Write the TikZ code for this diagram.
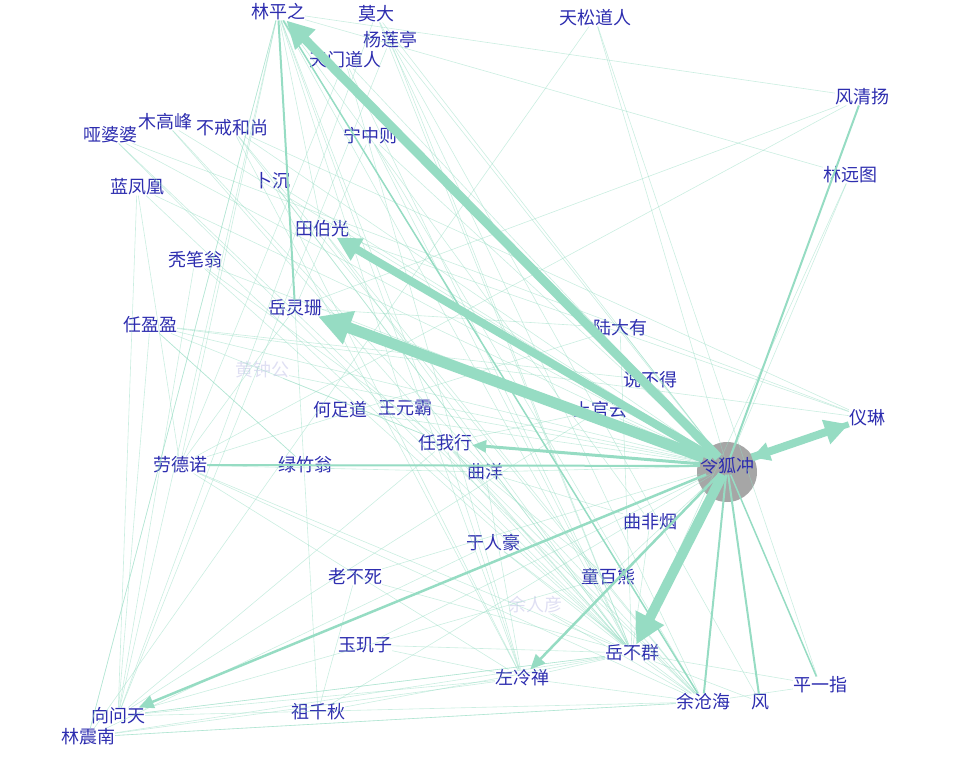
\documentclass[tikz,border=0pt]{standalone}
\usepackage{fontspec}
\newfontfamily\cjk{Noto Sans CJK SC}
\usetikzlibrary{arrows.meta}
\definecolor{edge}{RGB}{150,220,195}
\definecolor{lab}{RGB}{45,45,175}
\begin{document}
\begin{tikzpicture}[x=1pt,y=-1pt,
  lbl/.style={font=\cjk\fontsize{18}{18}\selectfont,text=lab,inner sep=0pt},
  faintlbl/.style={lbl,text=lab!15},
  thin/.style={draw=edge,opacity=0.5,line width=0.6pt},
  mid/.style={draw=edge,line width=2.5pt,-{Triangle[length=15pt,width=13pt]}},
  big/.style={draw=edge,line width=#1,-{Triangle[length=3*#1,width=3*#1]}}]
\useasboundingbox (0,0) rectangle (977,772);
\fill[gray!70] (727,472) circle (30);
\foreach \n/\t/\x/\y in {lpz/林平之/278/12, md/莫大/376/14, ylt/杨莲亭/390/40, tmd/天门道人/345/60, tsd/天松道人/595/18, fqy/风清扬/862/97, lyt/林远图/850/175, ypp/哑婆婆/110/135, mgf/木高峰/165/122, bjh/不戒和尚/232/128, yzz/宁中则/370/136, bc/卜沉/272/181, lfh/蓝凤凰/137/187, tbg/田伯光/322/229, tbw/秃笔翁/195/260, yls/岳灵珊/295/308, ryy/任盈盈/150/325, ldy/陆大有/620/328, sbd/说不得/650/380, hzd/何足道/340/410, wyb/王元霸/405/408, sgy/上官云/600/410, yl/仪琳/867/418, rwx/任我行/445/443, ldn/劳德诺/180/465, lzw/绿竹翁/305/465, qy/曲洋/485/472, lhc/令狐冲/727/466, qfy/曲非烟/650/522, yrh/于人豪/493/543, lbs/老不死/355/577, tbx/童百熊/608/577, yjz/玉玑子/365/645, ybq/岳不群/632/653, zlc/左冷禅/522/678, pyz/平一指/820/685, zqq/祖千秋/318/712, ych/余沧海/703/702, hf/风/760/702, xwt/向问天/118/716, lzn/林震南/88/737}
  \node[lbl] (\n) at (\x,\y) {\t};
\node[faintlbl] (hzg) at (262,370) {黄钟公};
\node[faintlbl] (yry) at (535,605) {余人彦};
% faint web
\foreach \a/\b in {lpz/ybq, lpz/zlc, lpz/ych, lpz/ldn, lpz/xwt, lpz/lzn, lpz/tbg, lpz/rwx, lpz/qfy, md/lhc, md/ybq, md/ych, ylt/lhc, ylt/ybq, ylt/hf, tmd/lhc, tmd/zlc, tmd/ybq, tsd/lhc, tsd/pyz, fqy/lhc, fqy/lpz, fqy/ldn, fqy/yls, lyt/lhc, lyt/lpz, lyt/ybq, ypp/lhc, ypp/ybq, ypp/ych, ypp/yl, mgf/lhc, mgf/ybq, mgf/ych, bjh/lhc, bjh/yl, bjh/ych, bjh/ybq, yzz/ybq, yzz/lhc, yzz/yls, yzz/ych, bc/lhc, bc/ybq, bc/zlc, lfh/lhc, lfh/ybq, lfh/ldn, lfh/xwt, tbg/yl, tbg/ybq, tbg/ych, tbw/lhc, tbw/xwt, tbw/rwx, tbw/ybq, ryy/lhc, ryy/rwx, ryy/xwt, ryy/lzw, ryy/yl, ldy/lhc, ldy/ybq, ldy/yls, ldy/ldn, sbd/lhc, sbd/ryy, hzd/lhc, wyb/lhc, wyb/ybq, wyb/lpz, sgy/rwx, sgy/xwt, sgy/lhc, rwx/xwt, rwx/zlc, rwx/ybq, rwx/ych, ldn/ybq, ldn/yls, ldn/zlc, ldn/ych, lzw/lhc, lzw/ryy, qy/lhc, qy/qfy, qy/zlc, qy/ldn, qfy/ybq, yrh/ych, yrh/ybq, yrh/lzn, lbs/lhc, lbs/zqq, tbx/rwx, tbx/lhc, tbx/xwt, yjz/zlc, yjz/lhc, ybq/zlc, ybq/ych, ybq/xwt, ybq/hf, zlc/xwt, zlc/lzn, zlc/ych, zqq/lhc, zqq/ybq, pyz/ybq, pyz/ych, ych/lzn, lzn/lpz, lzn/ybq, hf/lhc, hzg/rwx, hzg/lhc, yry/ych, yry/ybq, tsd/lzn, md/xwt, ylt/xwt, lpz/zqq, bjh/zlc, xwt/ych, xwt/ybq, lzn/ych, ldn/lhc, lbs/ybq, yjz/ybq, tmd/ldn}
  \draw[thin] (\a) -- (\b);
% main arrows
\draw[big=9pt] (lhc) -- (lpz);
\draw[big=8pt] (lhc) -- (tbg);
\draw[big=11pt] (lhc) -- (yls);
\draw[big=10pt] (lhc) -- (ybq);
\draw[big=8pt] (lhc) -- (yl);
\draw[big=6pt] (yl) -- (lhc);
\draw[mid] (lhc) -- (xwt);
\draw[mid] (lhc) -- (zlc);
\draw[draw=edge,line width=3pt,-{Triangle[length=14pt,width=12pt]}] (lhc) -- (rwx);
\draw[draw=edge,line width=2pt] (lhc) -- (ych);
\draw[draw=edge,line width=2pt] (lhc) -- (hf);
\draw[draw=edge,line width=2pt] (lhc) -- (fqy);
\draw[draw=edge,line width=1.5pt] (lhc) -- (pyz);
\draw[draw=edge,line width=2pt] (lhc) -- (ldn);
\draw[draw=edge,line width=2pt] (lpz) -- (yls);
\draw[draw=edge,line width=1.5pt] (lpz) -- (ych);
\end{tikzpicture}
\end{document}
